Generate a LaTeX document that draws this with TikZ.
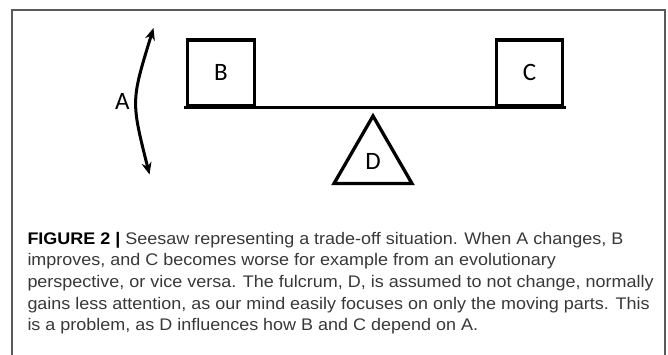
\documentclass[tikz,border=0pt]{standalone}
\usepackage{fontspec}
\setmainfont[FakeStretch=1.07]{Liberation Sans}
\newfontfamily\labelfont{Carlito}
\usetikzlibrary{arrows.meta, shapes.geometric, positioning}
\definecolor{FrameGray}{HTML}{5A5A5A}
\definecolor{CapText}{HTML}{383838}
\tikzset{
  weightbox/.style={rectangle, draw=black, line width=3.3pt,
                    minimum width=66.6pt, minimum height=65.6pt,
                    inner sep=0pt, font=\labelfont\fontsize{25}{25}\selectfont},
  fulcrum/.style={regular polygon, regular polygon sides=3, draw=black,
                  line width=3.3pt, minimum size=90pt, inner sep=0pt,
                  font=\labelfont\fontsize{25}{25}\selectfont},
}
\begin{document}
\begin{tikzpicture}[x=1pt, y=-1pt,
    beam/.style={line width=3.3pt, line cap=rect},
    swing/.style={{Stealth[length=12pt, width=10pt]}-{Stealth[length=12pt, width=10pt]},
                  line width=3pt},
    frameline/.style={draw=FrameGray, line width=1.2pt},
    caption/.style={anchor=base west, align=left, inner sep=0pt, text=CapText,
                    font=\fontsize{16.8}{21.7}\selectfont}
  ]
  \useasboundingbox (0,0) rectangle (668,355);
  % open frame round the figure
  \draw[frameline] (12,355) |- (665,10) -- (665,355);
  \node[weightbox] (B) at (221,72.8) {B};
  \node[weightbox] (C) at (529.5,72.8) {C};
  \draw[beam] (B.south west) -- (C.south east);
  \node[fulcrum] (D) at (373,161) {D};
  % swing of the seesaw
  \coordinate (swingtop) at (153.5,28);
  \coordinate (swingbot) at (149.5,174.5);
  \draw[swing] (swingtop) .. controls (131,101) .. (swingbot);
  \node[font=\labelfont\fontsize{25}{25}\selectfont] (A) at (122.3,101) {A};
  % base anchor sits on the last line
  \node[caption] (cap) at (27.3,330.8)
    {\textbf{\color{black}FIGURE 2 |} Seesaw representing a trade-off situation. When A changes, B\\
     improves, and C becomes worse for example from an evolutionary\\
     perspective, or vice versa. The fulcrum, D, is assumed to not change, normally\\
     gains less attention, as our mind easily focuses on only the moving parts. This\\
     is a problem, as D influences how B and C depend on A.};
\end{tikzpicture}
\end{document}
